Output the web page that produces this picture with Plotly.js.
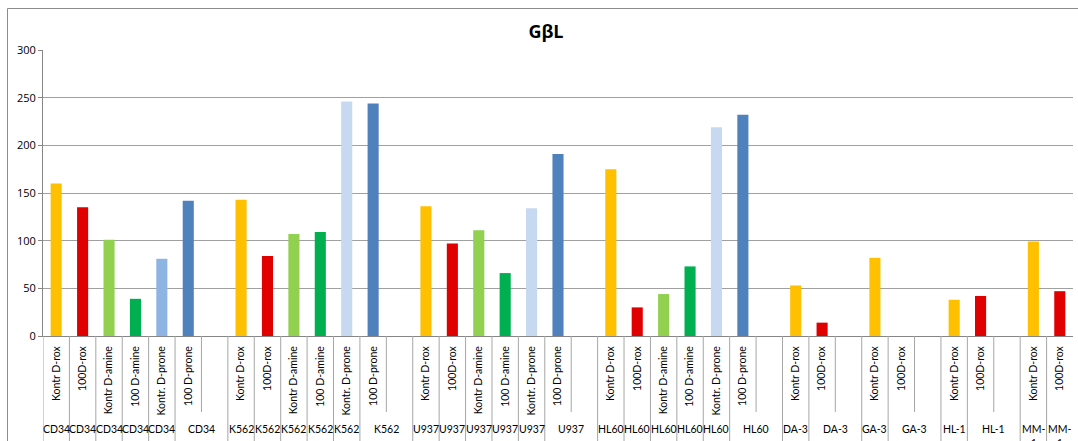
<!DOCTYPE html>
<html>
<head>
<meta charset="utf-8">
<script src="https://cdn.plot.ly/plotly-3.0.1.min.js"></script>
<style>
  html, body { margin: 0; padding: 0; background: #fff; }
  #chart { width: 1078px; height: 441px; }
</style>
</head>
<body>
<div id="chart"></div>
<script>
// ---- data ----
const cellLines = ['CD34', 'K562', 'U937', 'HL60', 'DA-3', 'GA-3', 'HL-1', 'MM-1'];
const treatments = ['Kontr D-rox', '100D-rox', 'Kontr D-amine', '100 D-amine', 'Kontr. D-prone', '100 D-prone'];
const valuesCD34 = [160, 135, 101, 39, 81, 142];
const valuesK562 = [143, 84, 107, 109, 246, 244];
const valuesU937 = [136, 97, 111, 66, 134, 191];
const valuesHL60 = [175, 30, 44, 73, 219, 232];
const valuesDA3 = [53, 14];
const valuesGA3 = [82, null];
const valuesHL1 = [38, 42];
const valuesMM1 = [99, 47];
const groupValues = [valuesCD34, valuesK562, valuesU937, valuesHL60, valuesDA3, valuesGA3, valuesHL1, valuesMM1];
const yTicks = [0, 50, 100, 150, 200, 250, 300];

// ---- styles ----
const treatmentColors = ['#FFC000', '#E00000', '#92D050', '#00B050', '#C6D9F1', '#4F81BD'];
const cd34ProneColor = '#8DB4E2';

// ---- build slots ----
const xs = [], ys = [], colors = [], tickvals = [], ticktext = [];
const shapes = [], annotations = [];
const plotTop = 50, plotBottom = 336, plotH = plotBottom - plotTop;
const py = (px) => (plotBottom - px) / plotH; // pixel row -> paper y
const lineCol = '#a6a6a6';
const labelFont = { family: 'Lato, "Open Sans", sans-serif', size: 10.5, color: '#000' };

let slot = 0;
const partials = new Set();
cellLines.forEach((g, gi) => {
  const vals = groupValues[gi];
  const trailingBlank = gi < cellLines.length - 1;
  vals.forEach((v, ti) => {
    xs.push(slot);
    ys.push(v);
    colors.push((g === 'CD34' && ti === 4) ? cd34ProneColor : treatmentColors[ti]);
    tickvals.push(slot);
    ticktext.push(treatments[ti]);
    const last = ti === vals.length - 1;
    if (trailingBlank && last) {
      annotations.push({ x: slot + 0.5, y: py(421), xref: 'x', yref: 'paper', text: g,
        showarrow: false, xanchor: 'center', yanchor: 'top', font: labelFont });
      partials.add(slot + 0.5);
    } else {
      const txt = !trailingBlank ? g.replace('-', '-<br>') : g;
      annotations.push({ x: slot, y: py(421), xref: 'x', yref: 'paper', text: txt,
        showarrow: false, xanchor: 'center', yanchor: 'top', font: labelFont });
    }
    slot++;
  });
  if (trailingBlank) slot++;
});
const nSlots = slot;

// dividers
for (let i = 0; i < nSlots; i++) {
  const xb = i - 0.5;
  const partial = partials.has(xb);
  shapes.push({ type: 'line', xref: 'x', yref: 'paper', x0: xb, x1: xb,
    y0: 0, y1: partial ? py(412) : py(450), line: { color: lineCol, width: 1 } });
}
// outer frame
shapes.push({ type: 'rect', xref: 'paper', yref: 'paper',
  x0: (7.5 - 43) / 1030, x1: 1.02, y0: py(460), y1: py(8.5),
  line: { color: '#8c8c8c', width: 1 }, fillcolor: 'rgba(0,0,0,0)', layer: 'above' });

const trace = {
  type: 'bar', x: xs, y: ys,
  marker: { color: colors, line: { width: 0 } },
  hoverinfo: 'x+y'
};

const layout = {
  width: 1078, height: 441,
  margin: { l: 43, r: 5, t: 50, b: 105, pad: 0 },
  paper_bgcolor: '#fff', plot_bgcolor: '#fff',
  showlegend: false,
  bargap: 0.58,
  title: { text: '<b>GβL</b>', x: 546 / 1078, xref: 'container', xanchor: 'center',
    y: 1 - 31.5 / 441, yref: 'container', yanchor: 'middle',
    font: { family: '"Open Sans", sans-serif', size: 18, color: '#000' } },
  xaxis: {
    range: [-0.5, nSlots - 0.5], tickmode: 'array', tickvals: tickvals, ticktext: ticktext,
    tickangle: -90, ticks: '', showgrid: false, zeroline: false,
    showline: true, linecolor: '#868686', linewidth: 1,
    tickfont: { family: 'Lato, "Open Sans", sans-serif', size: 10.5, color: '#000' },
    ticklabelstandoff: 5, fixedrange: true
  },
  yaxis: {
    range: [0, 300], tickmode: 'array', tickvals: yTicks,
    showgrid: true, gridcolor: '#a0a0a0', gridwidth: 1, zeroline: false,
    showline: true, linecolor: '#868686', linewidth: 1,
    ticks: 'outside', ticklen: 4, tickcolor: '#868686',
    tickfont: { family: '"Open Sans", sans-serif', size: 11, color: '#000' }, fixedrange: true
  },
  shapes: shapes,
  annotations: annotations
};

Plotly.newPlot('chart', [trace], layout, { displayModeBar: false, staticPlot: true });
</script>
</body>
</html>
